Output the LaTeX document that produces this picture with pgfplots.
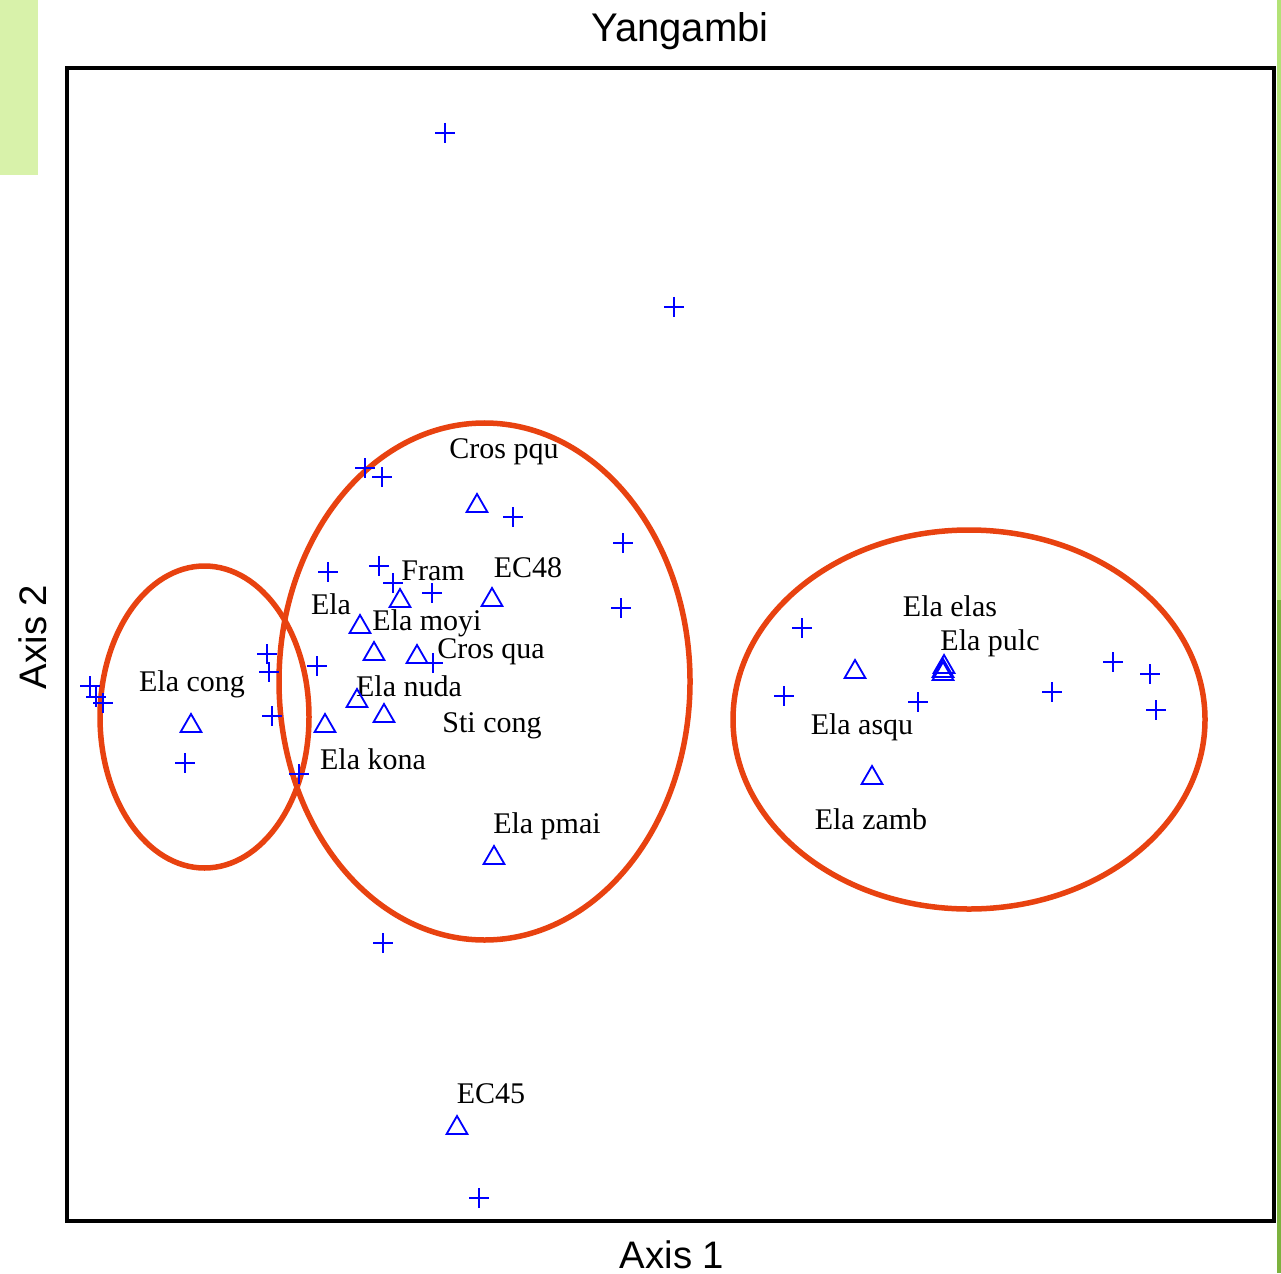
\documentclass[border=0pt]{standalone}
\usepackage{pgfplots}
\pgfplotsset{compat=1.18}
\usepackage{fontspec}
\setmainfont{Liberation Serif}
\newfontfamily\arial{Liberation Sans}
\definecolor{ellred}{RGB}{232,66,16}
\definecolor{ptblue}{RGB}{0,0,255}
\definecolor{lgreen}{RGB}{216,242,170}
\definecolor{stripeA}{RGB}{178,226,118}
\definecolor{stripeB}{RGB}{124,178,62}
\begin{document}
\begin{tikzpicture}
\begin{axis}[
  scale only axis,
  width=362.1pt, height=345.9pt,
  xmin=67, xmax=1274, ymin=68, ymax=1221,
  y dir=reverse,
  axis line style={line width=1pt},
  xtick=\empty, ytick=\empty,
  clip=false,
]
% plus points (pixel coordinates)
\addplot[only marks, mark=+, mark size=3pt, ptblue, line width=0.55pt] coordinates {
(445,133) (674,307) (365,468) (382,477) (513,517) (623,543) (621,608)
(328,572) (379,566) (393,583) (432,593) (317,666) (433,663) (299,774)
(90,686) (96,697) (103,703) (267,654) (269,672) (272,716) (185,763)
(802,628) (784,696) (918,702) (1052,692) (1113,662) (1150,674) (1156,710)
(383,943) (479,1198)
};
% triangle points
\addplot[only marks, mark=triangle, mark size=3.6pt, ptblue, line width=0.55pt] coordinates {
(477,506) (492,600) (400,601) (360,627) (374,654) (417,657) (357,701) (384,716) (325,726)
(191,726) (855,672) (943,671) (944,667) (943,674) (872,778) (494,858) (457,1128)
};
% ellipses
\draw[ellred, line width=1.65pt] (axis cs:204.5,717) ellipse [x radius=31.35pt, y radius=45.3pt];
\draw[ellred, line width=1.65pt] (axis cs:484.5,681.5) ellipse [x radius=61.65pt, y radius=77.55pt];
\draw[ellred, line width=1.65pt] (axis cs:969,719.5) ellipse [x radius=70.8pt, y radius=56.85pt];
% labels
\begin{scope}[every node/.style={font=\fontsize{9}{10}\selectfont, inner sep=0pt}]
\node at (axis cs:192,684) {Ela cong};
\node at (axis cs:504,452) {Cros pqu};
\node at (axis cs:433,571) {Fram};
\node at (axis cs:528,568) {EC48};
\node at (axis cs:331,604) {Ela};
\node at (axis cs:427,623) {Ela moyi};
\node at (axis cs:491,652) {Cros qua};
\node at (axis cs:409,686) {Ela nuda};
\node at (axis cs:492,726) {Sti cong};
\node at (axis cs:373,759) {Ela kona};
\node at (axis cs:547,826) {Ela pmai};
\node at (axis cs:491,1094) {EC45};
\node at (axis cs:950,606) {Ela elas};
\node at (axis cs:990,643) {Ela pulc};
\node at (axis cs:862,727) {Ela asqu};
\node at (axis cs:871,819) {Ela zamb};
\end{scope}
% title and axis labels
\node[font=\arial\fontsize{12}{14}\selectfont, inner sep=0pt] at (axis cs:680,31) {Yangambi};
\node[font=\arial\fontsize{11.5}{13}\selectfont, inner sep=0pt] at (axis cs:672,1255) {Axis 1};
\node[font=\arial\fontsize{11.5}{13}\selectfont, inner sep=0pt, rotate=90] at (axis cs:33,637) {Axis 2};
% decorations
\fill[lgreen] (axis cs:0,0) rectangle (axis cs:38,175);
\fill[stripeA] (axis cs:1277,0) rectangle (axis cs:1281,600);
\fill[stripeB] (axis cs:1277,600) rectangle (axis cs:1281,1273);
\path (axis cs:0,0) rectangle (axis cs:1281,1273);
\end{axis}
\end{tikzpicture}
\end{document}
